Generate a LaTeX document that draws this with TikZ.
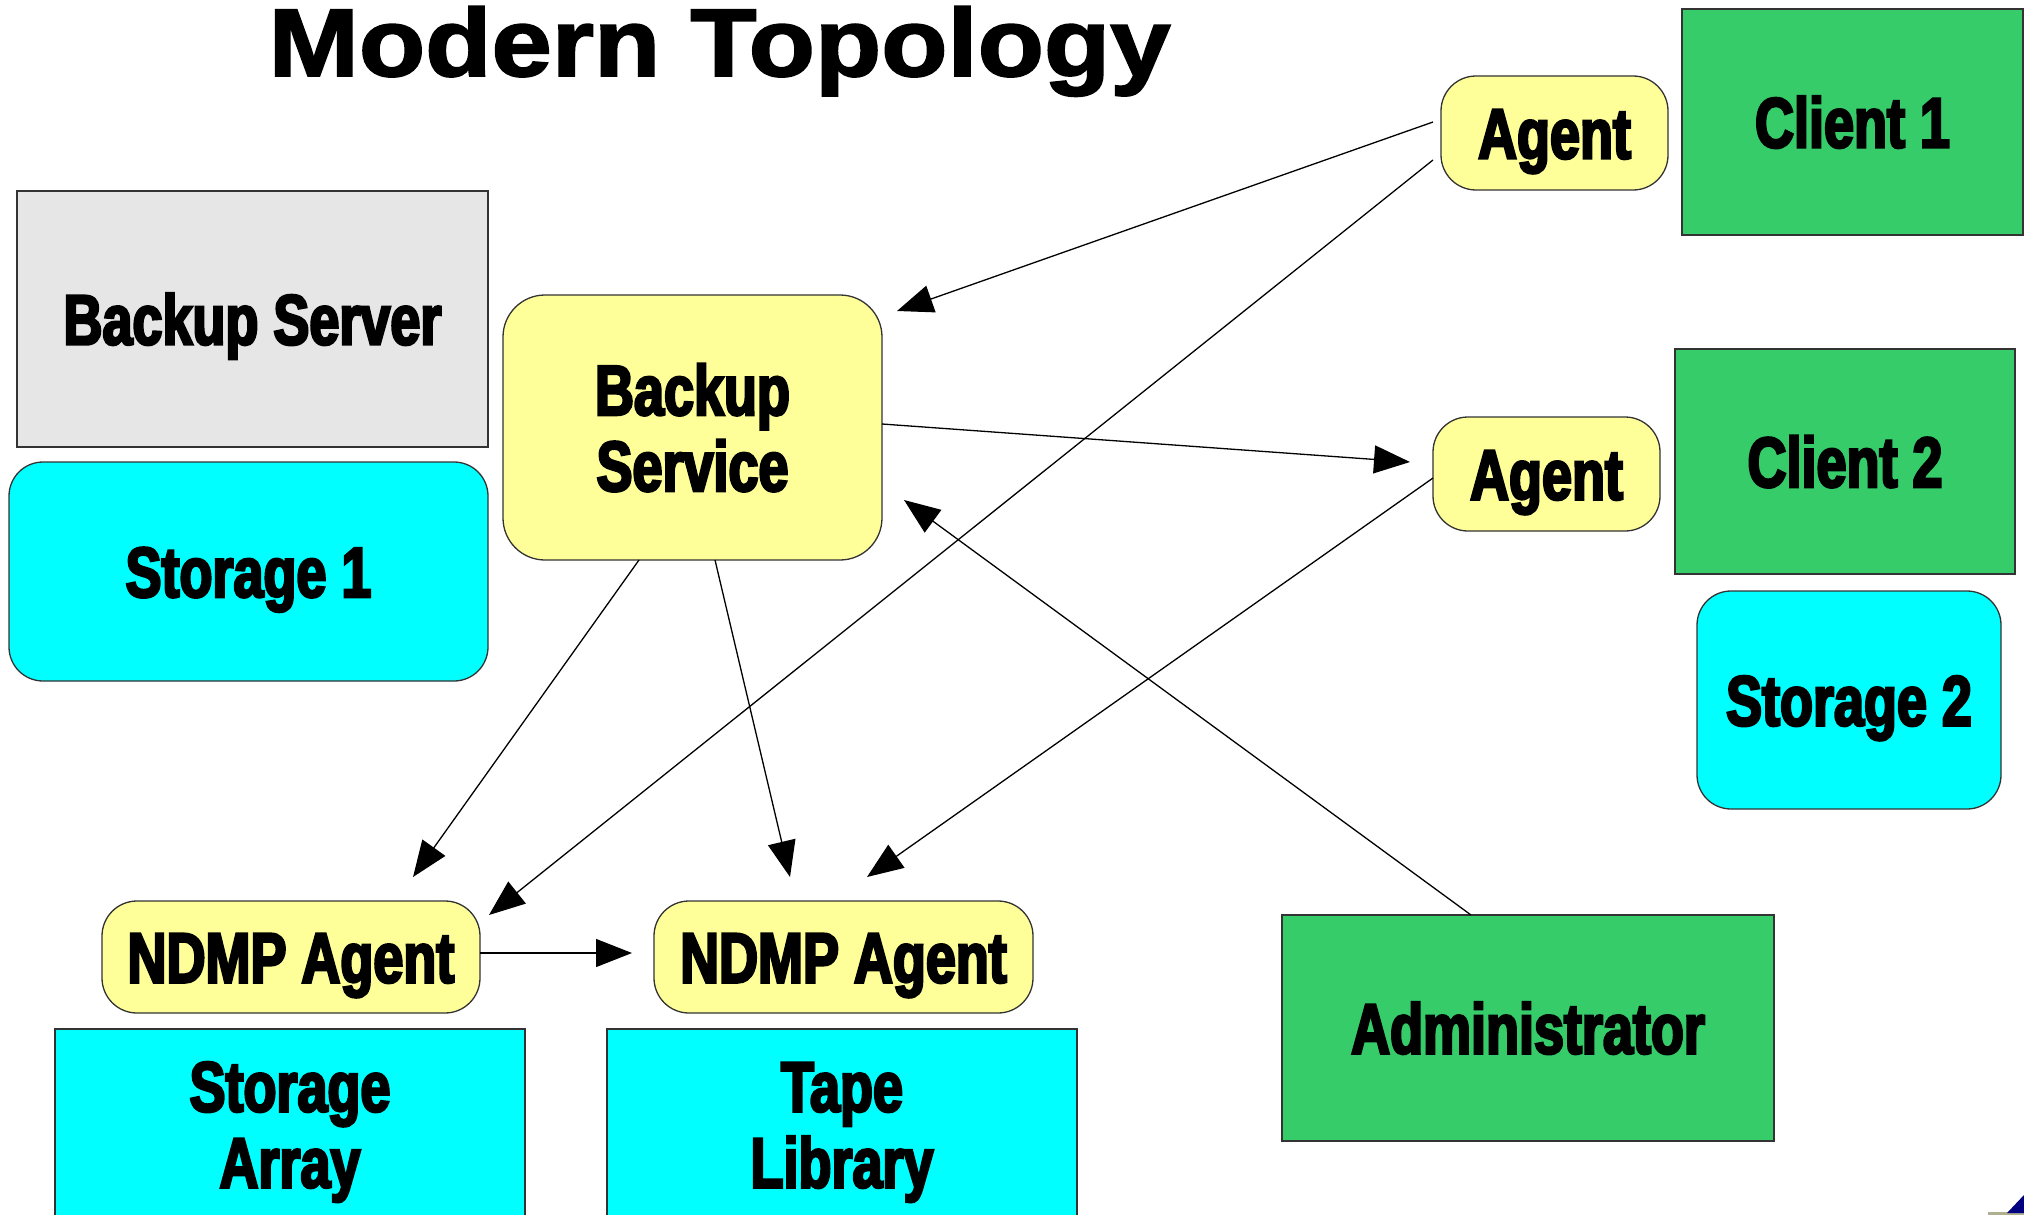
\documentclass[tikz,border=0pt]{standalone}
\usepackage{fontspec}
\newfontfamily\impactfont{Liberation Sans}[FakeStretch=0.76,FakeBold=3.5]
\newfontfamily\titlefont{Liberation Sans}[FakeStretch=1.13,FakeBold=2]
\usetikzlibrary{arrows.meta,calc}
\definecolor{ylw}{HTML}{FFFF99}
\definecolor{cyn}{HTML}{00FFFF}
\definecolor{grn}{HTML}{36CC6A}
\definecolor{gry}{HTML}{E6E6E6}
\definecolor{edge}{HTML}{333333}
\definecolor{khaki}{HTML}{B0B090}
\definecolor{navyb}{HTML}{000080}
\tikzset{
  box/.style={draw=edge, line width=1.3pt, inner sep=0pt, outer sep=0pt,
    font=\impactfont\bfseries\fontsize{71}{76}\selectfont, align=center},
  oneline/.style={text height=51pt, text depth=0pt},
  twoline/.style={text height=127pt, text depth=0pt},
  ybox/.style={box, fill=ylw, rounded corners=35pt},
  cbox/.style={box, fill=cyn, rounded corners=34pt},
  cplain/.style={box, fill=cyn},
  gbox/.style={box, fill=grn},
  graybox/.style={box, fill=gry},
  conn/.style={line width=1.3pt, -{Triangle[length=36pt,width=28pt]}}
}
\begin{document}
\begin{tikzpicture}[x=1pt,y=-1pt]
\clip (0,0) rectangle (2024,1215);
\fill[white] (0,0) rectangle (2024,1215);

\node[anchor=base, font=\titlefont\bfseries\fontsize{96}{100}\selectfont] (title) at (719.5,76) {Modern Topology};

\node[graybox, oneline, minimum width=471pt, minimum height=256pt] (bserver) at (252.5,319) {Backup Server};
\node[cbox, oneline, minimum width=479pt, minimum height=219pt] (stor1) at (248.5,571.5) {Storage 1};
\node[ybox, twoline, rounded corners=42pt, minimum width=379pt, minimum height=265pt] (bsvc) at (692.5,427.5) {Backup\\Service};

\node[ybox, oneline, minimum width=227pt, minimum height=114pt] (agent1) at (1554.5,133) {Agent};
\node[gbox, oneline, minimum width=341pt, minimum height=226pt] (client1) at (1852.5,122) {Client 1};
\node[ybox, oneline, minimum width=227pt, minimum height=114pt] (agent2) at (1546.5,474) {Agent};
\node[gbox, oneline, minimum width=340pt, minimum height=225pt] (client2) at (1845,461.5) {Client 2};
\node[cbox, oneline, minimum width=304pt, minimum height=218pt] (stor2) at (1849,700) {Storage 2};

\node[ybox, oneline, minimum width=378pt, minimum height=112pt] (ndmp1) at (291,957) {NDMP Agent};
\node[ybox, oneline, minimum width=379pt, minimum height=112pt] (ndmp2) at (843.5,957) {NDMP Agent};
\node[cplain, twoline, minimum width=470pt, minimum height=190pt] (array) at (290,1124) {Storage\\Array};
\node[cplain, twoline, minimum width=470pt, minimum height=190pt] (tape) at (842,1124) {Tape\\Library};
\node[gbox, oneline, minimum width=492pt, minimum height=226pt] (admin) at (1528,1028) {Administrator};

% connectors
\draw[conn] ($(agent1.west)+(-8,-11)$) -- ($(bsvc.north east)+(15,16)$);
\draw[conn] ($(agent1.west)+(-8,27)$) -- ($(ndmp1.north east)+(9,14)$);
\draw[conn] ($(bsvc.east)+(0,-3.5)$) -- ($(agent2.west)+(-23,-12)$);
\draw[conn] ($(agent2.west)+(0,4)$) -- ($(ndmp2.north)+(23.5,-24)$);
\draw[conn] ($(bsvc.south)+(-53.5,0)$) -- ($(ndmp1.north)+(122,-24)$);
\draw[conn] ($(bsvc.south)+(22.5,0)$) -- ($(ndmp2.north)+(-53.5,-24)$);
\draw[conn] ($(ndmp1.east)+(0,-4)$) -- ($(ndmp2.west)+(-22,-4)$);
\draw[conn] ($(admin.north)+(-57,0)$) -- ($(bsvc.east)+(22,72.5)$);

% slide corner mark
\fill[khaki] (1988,1212) rectangle (2024,1215);
\fill[navyb] (2007,1213) -- (2024,1195) -- (2024,1213) -- cycle;
\end{tikzpicture}
\end{document}
